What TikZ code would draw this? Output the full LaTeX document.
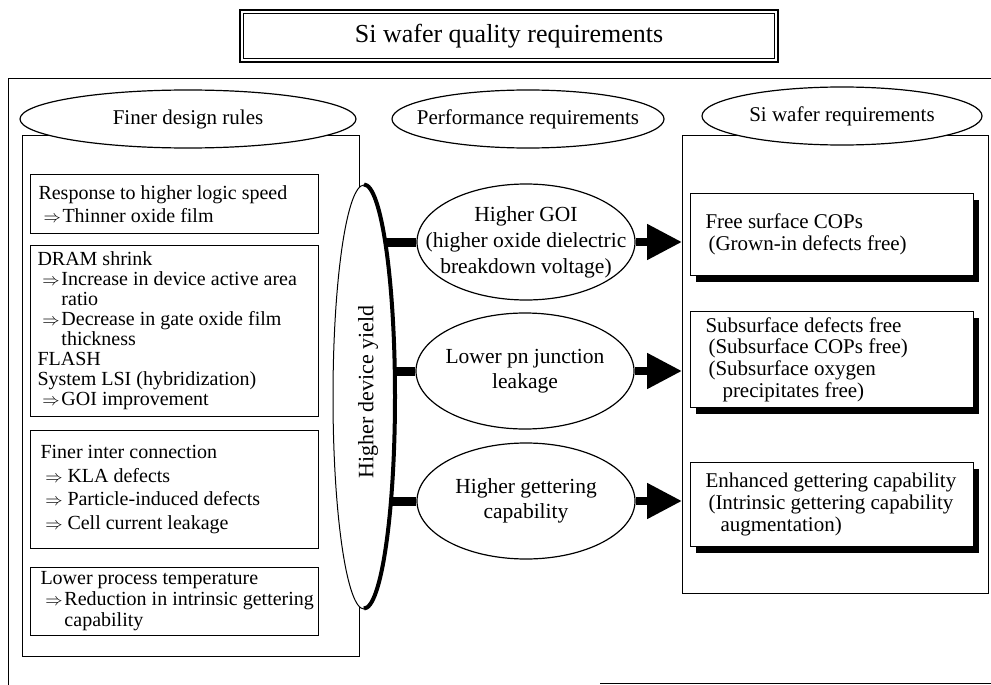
\documentclass[tikz,border=0pt]{standalone}
\usepackage{fontspec}
\setmainfont{Liberation Serif}
\usetikzlibrary{shapes.geometric,arrows.meta,shadows,backgrounds}
\newcommand\myarr{\hspace*{5pt}\makebox[19pt][l]{\fontsize{17}{17}\selectfont$\Rightarrow$}}
\newcommand\myarrs{\hspace*{5pt}\makebox[22pt][l]{\fontsize{17}{17}\selectfont$\Rightarrow$}}
\begin{document}
\begin{tikzpicture}[x=1pt,y=-1pt,line width=1pt,
  lbox/.style={draw,line width=1.1pt,anchor=north west,minimum width=288pt,inner sep=0pt},
  rbox/.style={draw,fill=white,line width=1.1pt,anchor=north west,minimum width=283pt,inner sep=0pt,
    drop shadow={shadow xshift=5pt,shadow yshift=-6pt,opacity=1,fill=black}},
  panel/.style={draw,line width=1pt,anchor=north west,inner sep=0pt},
  hell/.style={ellipse,draw,fill=white,line width=1.2pt,inner sep=0pt,minimum height=58pt},
  mell/.style={ellipse,draw,fill=white,line width=1.2pt,inner sep=0pt,minimum width=218pt,minimum height=116pt},
  ltxt/.style={align=left,inner sep=0pt,anchor=west},
  ctxt/.style={align=center,inner sep=0pt},
  conn/.style={line width=9pt},
  arr/.style={line width=8pt,-{Triangle[length=35pt,width=34pt]}},
]
\useasboundingbox (0,0) rectangle (991,685);
% outer frame
\draw (991,79) -- (8,79) -- (8,685);
\draw (600,683) -- (991,683);
% title
\node[draw,line width=1.6pt,minimum width=538pt,minimum height=52pt,inner sep=0pt] (title) at (509,36) {};
\draw[line width=0.7pt] ([shift={(4,4)}]title.north west) rectangle ([shift={(-4,-4)}]title.south east);
\node[font=\fontsize{26}{26}\selectfont] (titletxt) at (title.center) {Si wafer quality requirements};
% panels
\node[panel,minimum width=337pt,minimum height=521pt] (lp) at (22,135) {};
\node[panel,minimum width=306pt,minimum height=458pt] (rp) at (682,135) {};
% left boxes
\node[lbox,minimum height=59pt] (b1) at (30,174) {};
\node[ltxt,font=\fontsize{20}{23}\selectfont] (t1) at ([xshift=8pt]b1.west) {Response to higher logic speed\\\myarr Thinner oxide film};
\node[lbox,minimum height=171pt] (b2) at (30,245) {};
\node[ltxt,font=\fontsize{20}{20}\selectfont] (t2) at ([xshift=7pt]b2.west) {DRAM shrink\\\myarr Increase in device active area\\\hspace*{24pt}ratio\\\myarr Decrease in gate oxide film\\\hspace*{24pt}thickness\\FLASH\\System LSI (hybridization)\\\myarr GOI improvement};
\node[lbox,minimum height=118pt] (b3) at (30,430) {};
\node[ltxt,font=\fontsize{20}{23.5}\selectfont] (t3) at ([xshift=10pt]b3.west) {Finer inter connection\\\myarrs KLA defects\\\myarrs Particle-induced defects\\\myarrs Cell current leakage};
\node[lbox,minimum height=68pt] (b4) at (30,567) {};
\node[ltxt,font=\fontsize{20}{21}\selectfont] (t4) at ([xshift=10pt]b4.west) {Lower process temperature\\\myarr Reduction in intrinsic gettering\\\hspace*{24pt}capability};
% right boxes
\node[rbox,minimum height=82pt] (r1) at (690,193) {};
\node[ltxt,font=\fontsize{21}{22}\selectfont] (s1) at ([xshift=15pt]r1.west) {Free surface COPs\\\hspace*{3pt}(Grown-in defects free)};
\node[rbox,minimum height=96pt] (r2) at (690,311) {};
\node[ltxt,font=\fontsize{21}{21.7}\selectfont] (s2) at ([xshift=15pt]r2.west) {Subsurface defects free\\\hspace*{3pt}(Subsurface COPs free)\\\hspace*{3pt}(Subsurface oxygen\\\hspace*{17pt}precipitates free)};
\node[rbox,minimum height=84pt] (r3) at (690,462) {};
\node[ltxt,font=\fontsize{21}{22}\selectfont] (s3) at ([xshift=15pt]r3.west) {Enhanced gettering capability\\\hspace*{3pt}(Intrinsic gettering capability\\\hspace*{15pt}augmentation)};
% yield ellipse
\node[ellipse,draw,fill=white,line width=1pt,inner sep=0pt,minimum width=62pt,minimum height=424pt] (yield) at (364,397) {};
\draw[line width=4pt] (yield.north) arc[start angle=90,end angle=-90,x radius=31pt,y radius=212pt];
\node[rotate=90,font=\fontsize{22}{22}\selectfont,inner sep=0pt] (ytxt) at (368,392) {Higher device yield};
% header ellipses
\node[hell,minimum width=336pt] (h1) at (188,119) {};
\node[font=\fontsize{21}{21}\selectfont] at (h1) {Finer design rules};
\node[hell,minimum width=272pt] (h2) at (528,119) {};
\node[font=\fontsize{21}{21}\selectfont] at (h2) {Performance requirements};
\node[hell,minimum width=280pt] (h3) at (842,116) {};
\node[font=\fontsize{21}{21}\selectfont] at (h3) {Si wafer requirements};
% middle ellipses
\node[mell] (m1) at (526,242) {};
\node[ctxt,font=\fontsize{21.5}{26}\selectfont] at (m1) {Higher GOI\\(higher oxide dielectric\\breakdown voltage)};
\node[mell] (m2) at (525,371) {};
\node[ctxt,font=\fontsize{21.5}{25}\selectfont] at (m2) {Lower pn junction\\leakage};
\node[mell] (m3) at (526,501) {};
\node[ctxt,font=\fontsize{21.5}{25}\selectfont] at (m3) {Higher gettering\\capability};
% connectors
\begin{scope}[on background layer]
\draw[conn] (yield.center |- m1.west) -- (m1.west);
\draw[conn] (yield.center |- m2.west) -- (m2.west);
\draw[conn] (yield.center |- m3.west) -- (m3.west);
\end{scope}
\draw[arr] (m1.east) -- (m1.east -| rp.west);
\draw[arr] (m2.east) -- (m2.east -| rp.west);
\draw[arr] (m3.east) -- (m3.east -| rp.west);
\end{tikzpicture}
\end{document}
